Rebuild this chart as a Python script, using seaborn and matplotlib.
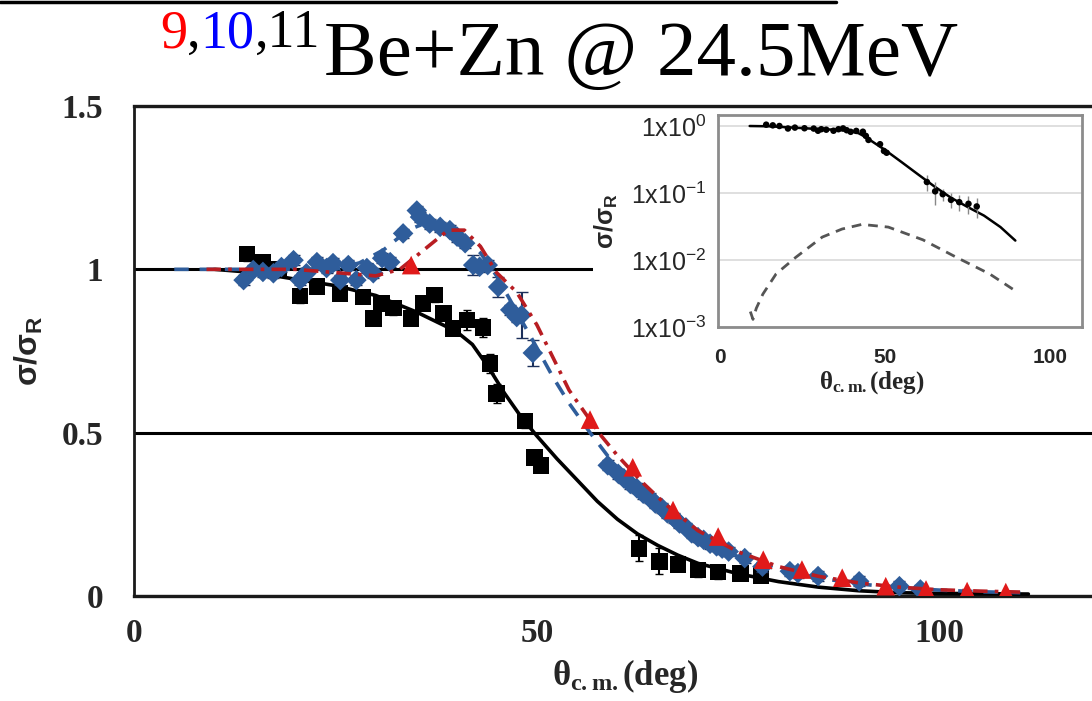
import matplotlib
matplotlib.use("Agg")
import matplotlib.pyplot as plt
import seaborn as sns
from matplotlib.lines import Line2D
from matplotlib.patches import Rectangle
from matplotlib.ticker import NullLocator

# 11Be data (black squares) and fit
x11 = [14.0, 16.0, 18.0, 20.6, 22.7, 25.6, 28.4, 29.7, 30.7, 32.2, 34.4, 35.9, 37.3, 38.4, 39.6,
       41.3, 43.3, 44.2, 45.0, 48.5, 49.7, 50.5, 62.7, 65.2, 67.5, 70.0, 72.5, 75.3, 77.8]
y11 = [1.047, 1.023, 1.0, 0.918, 0.947, 0.926, 0.916, 0.850, 0.896, 0.881, 0.850, 0.896, 0.921, 0.865, 0.819,
       0.845, 0.822, 0.712, 0.620, 0.535, 0.424, 0.399, 0.146, 0.106, 0.096, 0.079, 0.073, 0.069, 0.063]
e11 = [0.02, 0.02, 0.02, 0.02, 0.02, 0.02, 0.02, 0.02, 0.02, 0.02, 0.02, 0.02, 0.02, 0.02, 0.02,
       0.03, 0.03, 0.03, 0.03, 0.02, 0.02, 0.02, 0.04, 0.04, 0.02, 0.02, 0.02, 0.02, 0.02]
xf11 = [10, 15, 20, 25, 30, 35, 40, 42, 44, 46, 48, 50, 52.5, 55, 57.5, 60, 62.5, 65, 67.5, 70, 75, 80,
        85, 90, 95, 100, 105, 111]
yf11 = [1.0, 0.99, 0.97, 0.95, 0.92, 0.87, 0.81, 0.77, 0.70, 0.62, 0.55, 0.49, 0.42, 0.355, 0.29, 0.235,
        0.19, 0.155, 0.125, 0.10, 0.068, 0.044, 0.027, 0.016, 0.010, 0.008, 0.007, 0.006]

# 10Be data (blue diamonds) and fit
x10 = [13.6, 14.8, 16.0, 17.3, 18.3, 19.8, 20.6, 21.4, 22.7, 23.9, 24.7, 25.6, 26.6, 27.6, 28.9, 29.7,
       30.8, 31.8, 33.4, 35.1, 35.5, 36.7, 38.0, 39.2, 40.1, 41.1, 42.1, 42.9, 43.9, 45.2, 46.7, 47.5,
       48.1, 49.5, 58.8, 60.1, 60.8, 61.6, 62.4, 63.2, 64.0, 64.7, 65.5, 66.2, 67.0, 67.7, 68.5, 69.2,
       70.0, 70.7, 71.5, 72.3, 73.0, 73.8, 75.8, 78.0, 81.4, 82.4, 84.9, 90.0, 95.0, 97.6]
y10 = [0.967, 0.998, 0.992, 0.988, 1.007, 1.028, 0.967, 0.988, 1.022, 1.004, 1.019, 0.967, 1.013, 0.967,
       1.004, 0.988, 1.034, 1.022, 1.11, 1.18, 1.16, 1.14, 1.13, 1.12, 1.10, 1.08, 1.013, 1.008, 1.013,
       0.946, 0.876, 0.854, 0.86, 0.744, 0.40, 0.374, 0.36, 0.343, 0.33, 0.313, 0.30, 0.283, 0.27, 0.253,
       0.24, 0.222, 0.21, 0.192, 0.18, 0.172, 0.16, 0.152, 0.145, 0.136, 0.116, 0.09, 0.076, 0.07, 0.061,
       0.045, 0.030, 0.020]
e10 = [0.015, 0.015, 0.015, 0.015, 0.015, 0.015, 0.015, 0.015, 0.015, 0.015, 0.015, 0.015, 0.015, 0.015,
       0.015, 0.015, 0.015, 0.015, 0.015, 0.015, 0.015, 0.015, 0.015, 0.015, 0.015, 0.015, 0.03, 0.015, 0.015,
       0.03, 0.015, 0.015, 0.07, 0.04, 0.015, 0.015, 0.015, 0.015, 0.015, 0.015, 0.015, 0.015, 0.015, 0.015,
       0.015, 0.015, 0.015, 0.015, 0.015, 0.015, 0.015, 0.015, 0.015, 0.015, 0.015, 0.015, 0.015, 0.015,
       0.015, 0.015, 0.015, 0.015]
xf10 = [5, 10, 15, 20, 25, 28, 31, 34, 37, 40, 43, 45, 47.5, 50, 52, 54, 56.6, 60, 63, 66, 70, 75, 80,
        85, 90, 95, 100, 105, 110]
yf10 = [1.0, 1.0, 1.0, 1.0, 1.0, 1.02, 1.06, 1.12, 1.15, 1.12, 1.05, 0.98, 0.87, 0.76, 0.67, 0.59, 0.50,
        0.39, 0.31, 0.25, 0.18, 0.12, 0.08, 0.055, 0.037, 0.025, 0.018, 0.013, 0.01]

# 9Be data (red triangles) and fit
x9 = [34.4, 56.6, 61.9, 66.9, 72.5, 78.1, 82.9, 87.9, 93.3, 98.3, 103.4, 108.2]
y9 = [1.013, 0.54, 0.394, 0.263, 0.182, 0.111, 0.081, 0.056, 0.030, 0.020, 0.015, 0.012]
xf9 = [9, 15, 20, 25, 30, 33, 36, 39, 41, 43, 45, 47.5, 50, 52, 54, 56, 58, 60, 63, 66, 70, 75, 80, 85,
       90, 95, 100, 105, 110]
yf9 = [1.0, 1.0, 1.0, 0.99, 0.98, 1.0, 1.06, 1.12, 1.12, 1.07, 0.99, 0.93, 0.83, 0.73, 0.63, 0.56, 0.49,
       0.43, 0.35, 0.28, 0.2, 0.135, 0.09, 0.06, 0.04, 0.027, 0.019, 0.015, 0.012]

# inset curves (log scale)
xin_fit = [9, 15, 20, 25, 30, 35, 39, 42, 44, 47, 50, 55, 60, 65, 70, 75, 80, 85, 89.5]
yin_fit = [1.0, 0.99, 0.96, 0.93, 0.9, 0.88, 0.85, 0.78, 0.69, 0.55, 0.44, 0.29, 0.19, 0.125, 0.085,
           0.062, 0.046, 0.031, 0.0195]
xin_dash = [9.2, 10.0, 11.0, 13, 17, 23, 31, 37, 43, 51, 61.5, 71.6, 81.7, 89]
yin_dash = [0.0017, 0.0013, 0.0019, 0.0031, 0.0062, 0.011, 0.022, 0.029, 0.034, 0.031, 0.02, 0.011,
            0.0062, 0.0036]

main_ticks = [0, 50, 100]
main_yticks = [0, 0.5, 1, 1.5]
main_ylabels = ["0", "0.5", "1", "1.5"]
inset_yticks = [1e-3, 1e-2, 1e-1, 1]
inset_ylabels = [r"$\mathsf{1x10^{-3}}$", r"$\mathsf{1x10^{-2}}$", r"$\mathsf{1x10^{-1}}$", r"$\mathsf{1x10^{0}}$"]

BLUE = "#2f5d9b"
RED = "#e01a1a"
DRED = "#b81d22"

sns.set_style("white")
plt.rcParams.update({
    "mathtext.fontset": "custom",
    "mathtext.rm": "Liberation Serif:bold",
    "mathtext.it": "Liberation Serif:bold",
    "mathtext.bf": "Liberation Sans:bold",
    "mathtext.sf": "Liberation Sans",
})

W, H = 1092, 701
fig = plt.figure(figsize=(W / 100, H / 100), dpi=100)
ax = fig.add_axes([134 / W, 105 / H, (W - 134) / W, 490 / H])

# curves
sns.lineplot(x=xf11, y=yf11, ax=ax, color="black", lw=2.6, sort=False, estimator=None, zorder=4)
sns.lineplot(x=xf10, y=yf10, ax=ax, color=BLUE, lw=2.6, sort=False, estimator=None,
             linestyle=(0, (4, 3)), zorder=6)
sns.lineplot(x=xf9, y=yf9, ax=ax, color=DRED, lw=2.6, sort=False, estimator=None,
             linestyle=(0, (4, 2, 1, 2)), zorder=6.5)

# data points
ax.errorbar(x11, y11, yerr=e11, fmt="none", ecolor="black", elinewidth=1.5, capsize=3, zorder=3)
sns.scatterplot(x=x11, y=y11, ax=ax, marker="s", s=140, color="black", edgecolor="none", zorder=3.5)
ax.errorbar(x10, y10, yerr=e10, fmt="none", ecolor="#1c2f5a", elinewidth=1.5, capsize=4, zorder=5)
sns.scatterplot(x=x10, y=y10, ax=ax, marker="D", s=110, color=BLUE, edgecolor="none", zorder=5.5)
sns.scatterplot(x=x9, y=y9, ax=ax, marker="^", s=180, color=RED, edgecolor="none", zorder=7)

ax.set_xlim(0, 118.9)
ax.set_ylim(0, 1.5)
ax.set_xticks(main_ticks)
ax.set_xticklabels([str(t) for t in main_ticks])
ax.set_yticks(main_yticks)
ax.set_yticklabels(main_ylabels)
ax.yaxis.grid(True, color="black", lw=2.2)
ax.xaxis.grid(False)
ax.set_axisbelow(True)
for s in ["top", "bottom"]:
    ax.spines[s].set_color("#1a1a1a")
    ax.spines[s].set_linewidth(2.4)
ax.spines["left"].set_color("#1a1a1a")
ax.spines["left"].set_linewidth(2)
ax.spines["right"].set_visible(False)
ax.tick_params(axis="y", direction="out", length=7, width=1, color="#b0b0b0", pad=15)
ax.tick_params(axis="x", direction="out", length=8.5, width=1, color="#b0b0b0", pad=7)
for lab in ax.get_xticklabels() + ax.get_yticklabels():
    lab.set_fontfamily("Liberation Serif")
    lab.set_fontweight("bold")
    lab.set_fontsize(24)
ax.set_xlabel(r"$\theta_{\rm c{.}m{.}}$(deg)", fontfamily="Liberation Serif", fontweight="bold",
              fontsize=25, labelpad=12)
ax.xaxis.set_label_coords(0.513, -0.125)
ax.set_ylabel(r"$\mathbf{\sigma/\sigma_R}$", fontsize=23, labelpad=12)

# white backing behind the inset
fig.add_artist(Rectangle((593 / W, (H - 412) / H), (W - 593) / W, (412 - 110) / H,
                         transform=fig.transFigure, facecolor="white", edgecolor="none", zorder=2))

# inset
axi = fig.add_axes([718 / W, (H - 327) / H, 364 / W, 212 / H])
axi.set_zorder(3)
axi.set_yscale("log")
sns.lineplot(x=xin_fit, y=yin_fit, ax=axi, color="black", lw=1.8, sort=False, estimator=None)
sns.lineplot(x=xin_dash, y=yin_dash, ax=axi, color="#555555", lw=2.0, sort=False, estimator=None,
             linestyle=(0, (3.5, 2.5)))
axi.errorbar(x11, y11, yerr=e11, fmt="none", ecolor="#888888", elinewidth=1, zorder=3)
sns.scatterplot(x=x11, y=y11, ax=axi, marker="o", s=22, color="black", edgecolor="none", zorder=4)
axi.set_xlim(-0.6, 109.7)
axi.set_ylim(1e-3, 1.46)
axi.set_yticks(inset_yticks)
axi.set_yticklabels(inset_ylabels)
axi.yaxis.set_minor_locator(NullLocator())
axi.set_xticks(main_ticks)
axi.set_xticklabels([str(t) for t in main_ticks])
axi.yaxis.grid(True, color="#d9d9d9", lw=1.2)
axi.xaxis.grid(False)
for s in axi.spines.values():
    s.set_color("#8c8c8c")
    s.set_linewidth(2)
axi.tick_params(axis="y", length=0, pad=8, labelsize=18)
axi.tick_params(axis="x", length=4, color="#cccccc", pad=11)
for lab in axi.get_xticklabels():
    lab.set_fontfamily("Liberation Sans")
    lab.set_fontweight("bold")
    lab.set_fontsize(15)
axi.set_xlabel(r"$\theta_{\rm c{.}m{.}}$(deg)", fontfamily="Liberation Serif", fontweight="bold",
               fontsize=18, labelpad=9)
axi.xaxis.set_label_coords(0.423, -0.2)
axi.set_ylabel(r"$\mathbf{\sigma/\sigma_R}$", fontsize=18, labelpad=8)

# line across the top of the picture
fig.add_artist(Line2D([0, 836 / W], [1 - 1.5 / H] * 2, transform=fig.transFigure, color="black", lw=2.5))

# title with coloured superscripts
fig.canvas.draw()
rend = fig.canvas.get_renderer()
xpos = 160
for txt, col in [("9", "red"), (",", "black"), ("10", "blue"), (",11", "black")]:
    t = fig.text(xpos / W, 1 - 47 / H, txt, color=col, fontsize=39, fontfamily="Liberation Serif",
                 va="baseline", ha="left")
    xpos = t.get_window_extent(renderer=rend).x1
fig.text((xpos + 4) / W, 1 - 75 / H, "Be+Zn @ 24.5MeV", color="black", fontsize=57,
         fontfamily="Liberation Serif", va="baseline", ha="left")

fig.savefig("out.png", dpi=100)
